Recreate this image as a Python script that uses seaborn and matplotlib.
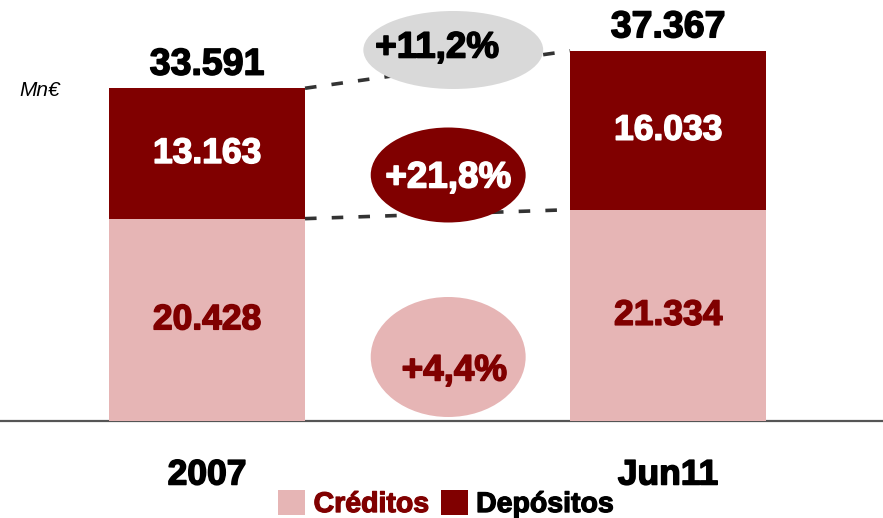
import matplotlib
matplotlib.use("Agg")
import matplotlib.pyplot as plt
import matplotlib.patheffects as pe
import seaborn as sns
import pandas as pd
from matplotlib.patches import Ellipse, Patch

categories = ["2007", "Jun11"]
creditos = [20428, 21334]
depositos = [13163, 16033]
series_names = ["Créditos", "Depósitos"]

PINK = "#E6B5B5"
DARK = "#800000"

sns.set_theme(style="white")
plt.rcParams["font.family"] = ["Liberation Sans", "DejaVu Sans"]

def fmt(v):
    return f"{v:,.0f}".replace(",", ".")

def pct(a, b):
    return "+" + f"{(b / a - 1) * 100:.1f}".replace(".", ",") + "%"

def heavy(color, w=1.1):
    return [pe.withStroke(linewidth=w, foreground=color)]

totals = [c + d for c, d in zip(creditos, depositos)]
df = pd.DataFrame({"cat": categories, "cred": creditos, "dep": depositos, "tot": totals})

fig = plt.figure(figsize=(8.83, 5.18), dpi=100)
ax = fig.add_axes([0, 1 - 421 / 518, 1, 421 / 518])

W = 0.425
sns.barplot(data=df, x="cat", y="tot", color=DARK, width=W, saturation=1, ax=ax,
            zorder=2, linewidth=0, edgecolor="none")
sns.barplot(data=df, x="cat", y="cred", color=PINK, width=W, saturation=1, ax=ax,
            zorder=3, linewidth=0, edgecolor="none")

ax.set_xlim(-0.449, 1.466)
ax.set_ylim(0, 42500)
ax.set_yticks([])
ax.set_xlabel("")
ax.set_ylabel("")
for s in ["top", "left", "right"]:
    ax.spines[s].set_visible(False)
ax.spines["bottom"].set_color("#555555")
ax.spines["bottom"].set_linewidth(1.6)

ax.set_xticks([0, 1])
ax.set_xticklabels(categories, fontsize=25.5, fontweight="bold", color="black")
for t in ax.get_xticklabels():
    t.set_path_effects(heavy("black"))
ax.tick_params(axis="x", which="major", length=0, pad=27)
ax.set_xticks([0.5], minor=True)
ax.tick_params(axis="x", which="minor", direction="in", length=6, width=1, color="#333333")

# labels
for i in range(2):
    ax.annotate(fmt(totals[i]), (i, totals[i]), xytext=(0, 4), textcoords="offset points",
                ha="center", va="bottom", fontsize=27, fontweight="bold", color="black",
                zorder=6, path_effects=heavy("black"))
    ax.text(i, creditos[i] / 2, fmt(creditos[i]), ha="center", va="center",
            fontsize=25.5, fontweight="bold", color=DARK, zorder=6, path_effects=heavy(DARK))
    ax.text(i, creditos[i] + depositos[i] / 2, fmt(depositos[i]), ha="center", va="center",
            fontsize=25.5, fontweight="bold", color="white", zorder=6, path_effects=heavy("white"))

# dashed connectors
h = W / 2
ls = (0, (3.2, 4.2))
ax.plot([0 + h, 1 - h], [totals[0], totals[1]], color="#333333", lw=2.6, ls=ls, zorder=1)
ax.plot([0 + h, 1 - h], [creditos[0], creditos[1]], color="#333333", lw=2.6, ls=ls, zorder=1)

# ellipses
ax.add_patch(Ellipse((0.534, 37453), 0.390, 7874, facecolor="#D9D9D9", edgecolor="none", zorder=4))
ax.add_patch(Ellipse((0.523, 24834), 0.336, 9590, facecolor=DARK, edgecolor="none", zorder=4))
ax.add_patch(Ellipse((0.523, 6461), 0.336, 12114, facecolor=PINK, edgecolor="none", zorder=4))

ax.text(0.499, 37650, pct(totals[0], totals[1]), ha="center", va="center",
        fontsize=26.5, fontweight="bold", color="black", zorder=6, path_effects=heavy("black"))
ax.text(0.523, 24530, pct(depositos[0], depositos[1]), ha="center", va="center",
        fontsize=26.5, fontweight="bold", color="white", zorder=6, path_effects=heavy("white"))
ax.text(0.536, 5050, pct(creditos[0], creditos[1]), ha="center", va="center",
        fontsize=26.5, fontweight="bold", color=DARK, zorder=6, path_effects=heavy(DARK))

fig.text(40 / 883, 1 - 90 / 518, "Mn€", ha="center", va="center", fontsize=15,
         style="italic", color="black")

handles = [Patch(facecolor=PINK, edgecolor="none"), Patch(facecolor=DARK, edgecolor="none")]
leg = fig.legend(handles, series_names, loc="center", bbox_to_anchor=(446 / 883, 1 - 504 / 518),
                 ncol=2, frameon=False, prop={"size": 20.5, "weight": "bold"},
                 handlelength=0.95, handleheight=0.95, handletextpad=0.3, columnspacing=0.4,
                 borderpad=0, borderaxespad=0)
leg.get_texts()[0].set_color(DARK)
leg.get_texts()[1].set_color("black")
for t, c in zip(leg.get_texts(), [DARK, "black"]):
    t.set_path_effects(heavy(c, 0.9))

fig.savefig("out.png", dpi=100)
